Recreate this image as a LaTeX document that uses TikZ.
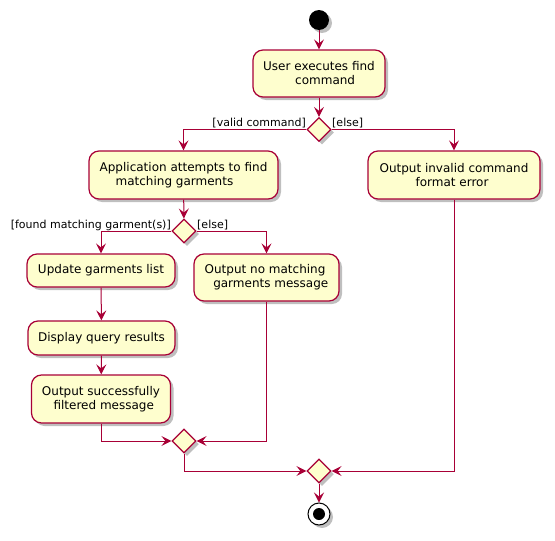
\documentclass[tikz,border=0pt]{standalone}
\usepackage{fontspec}
\setmainfont{DejaVu Sans}
\usetikzlibrary{arrows.meta,shadows,shapes.geometric}
\definecolor{pbord}{HTML}{A80036}
\definecolor{pfill}{HTML}{FEFECE}
\tikzset{
  pshadow/.style={drop shadow={shadow xshift=3pt, shadow yshift=-3pt, opacity=0.25, fill=black}},
  act/.style={draw=pbord, fill=pfill, line width=1.2pt, rounded corners=10pt, align=left,
    font=\fontsize{12}{14}\selectfont, inner sep=0pt, pshadow},
  dec/.style={draw=pbord, fill=pfill, line width=1.2pt, diamond, minimum width=24pt, minimum height=24pt, inner sep=0pt, pshadow},
  flow/.style={draw=pbord, line width=1pt, -{Stealth[length=10pt,width=10pt,inset=4pt]}},
  guard/.style={font=\fontsize{11}{13}\selectfont, inner sep=0pt},
}
\begin{document}
\begin{tikzpicture}[x=1pt,y=1pt]
\useasboundingbox (0,0) rectangle (555,-541);
\node[circle, fill=black, minimum size=20pt, inner sep=0pt, pshadow] (start) at (319,-20) {};
\node[act, minimum width=132pt, minimum height=47pt] (user) at (319,-73.5) {User executes find\\\hspace*{32pt}command};
\node[dec] (d1) at (319,-129.5) {};
\node[act, minimum width=189pt, minimum height=48pt] (app) at (183.5,-175) {Application attempts to find\\\hspace*{16pt}matching garments};
\node[act, minimum width=172pt, minimum height=48pt] (inv) at (454,-175) {Output invalid command\\\hspace*{36pt}format error};
\node[dec] (d2) at (184,-231) {};
\node[act, minimum width=148pt, minimum height=33pt] (upd) at (101,-270.5) {Update garments list};
\node[act, minimum width=145pt, minimum height=47pt] (nom) at (266.5,-277.5) {Output no matching\\\hspace*{8.6pt}garments message};
\node[act, minimum width=147pt, minimum height=34pt] (disp) at (101.5,-338) {Display query results};
\node[act, minimum width=139pt, minimum height=48pt] (succ) at (101,-399) {Output successfully\\\hspace*{11.6pt}filtered message};
\node[dec] (m1) at (184,-441) {};
\node[dec] (m2) at (319,-471) {};
\node[circle, draw=black, fill=white, line width=1pt, minimum size=22pt, inner sep=0pt, pshadow] (end) at (319,-514) {};
\node[circle, fill=black, minimum size=12pt, inner sep=0pt] (endin) at (end) {};

\node[guard, anchor=east] (g1) at (306,-123.5) {[valid command]};
\node[guard, anchor=west] (g2) at (332,-123.5) {[else]};
\node[guard, anchor=east] (g3) at (171,-225.5) {[found matching garment(s)]};
\node[guard, anchor=west] (g4) at (197,-225.5) {[else]};

\draw[flow] (start) -- (user);
\draw[flow] (user) -- (d1);
\draw[flow] (d1.west) -| (app.north);
\draw[flow] (d1.east) -| (inv.north);
\draw[flow] (app) -- (d2);
\draw[flow] (d2.west) -| (upd.north);
\draw[flow] (d2.east) -| (nom.north);
\draw[flow] (upd) -- (disp);
\draw[flow] (disp) -- (succ);
\draw[flow] (succ.south) |- (m1.west);
\draw[flow] (nom.south) |- (m1.east);
\draw[flow] (m1.south) |- (m2.west);
\draw[flow] (inv.south) |- (m2.east);
\draw[flow] (m2) -- (end);
\end{tikzpicture}
\end{document}
